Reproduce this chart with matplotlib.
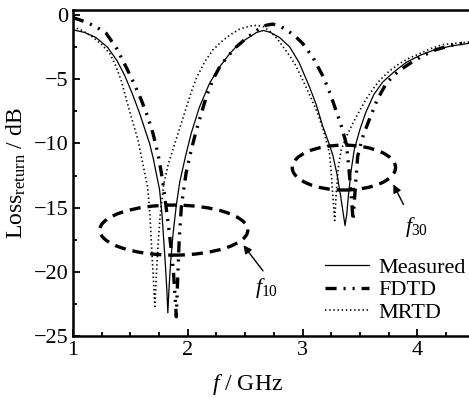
import matplotlib
matplotlib.use('Agg')
import matplotlib.pyplot as plt
from matplotlib.patches import Ellipse
from matplotlib.ticker import MultipleLocator

plt.rcParams['font.family'] = ['Liberation Serif', 'DejaVu Serif']
plt.rcParams['mathtext.fontset'] = 'custom'
plt.rcParams['mathtext.rm'] = 'Liberation Serif'
plt.rcParams['mathtext.it'] = 'Liberation Serif:italic'
plt.rcParams['font.size'] = 16
plt.rcParams['lines.scale_dashes'] = False

# measured return loss
meas_f = [1.00, 1.10, 1.20, 1.30, 1.38, 1.45, 1.52, 1.58, 1.63, 1.667, 1.70, 1.72,
          1.754, 1.775, 1.79, 1.805, 1.818, 1.826, 1.835, 1.85, 1.872, 1.90, 1.93, 1.98,
          2.03, 2.10, 2.19, 2.28, 2.365, 2.45, 2.54, 2.60, 2.66, 2.72, 2.80, 2.887,
          2.97, 3.06, 3.12, 3.177, 3.23, 3.263, 3.30, 3.33, 3.355, 3.37, 3.385, 3.40,
          3.425, 3.45, 3.50, 3.55, 3.62, 3.70, 3.80, 3.90, 4.02, 4.15, 4.30, 4.45]
meas_db = [-1.15, -1.35, -1.75, -2.5, -3.5, -4.7, -6.2, -7.65, -9.0, -10.0, -11.2, -12.1,
           -13.6, -15.5, -17.5, -19.5, -21.5, -23.2, -21.5, -19.3, -17.0, -14.8, -13.0, -11.0,
           -9.2, -7.2, -5.3, -4.0, -3.0, -2.2, -1.7, -1.35, -1.2, -1.35, -1.75, -2.47,
           -3.7, -5.6, -7.0, -8.7, -10.0, -10.9, -12.4, -14.0, -15.5, -16.4, -15.5, -14.0,
           -12.0, -10.5, -8.9, -7.6, -6.2, -5.2, -4.4, -3.7, -3.15, -2.7, -2.4, -2.2]

# FDTD simulation
fdtd_f = [1.00, 1.10, 1.20, 1.29, 1.38, 1.46, 1.53, 1.59, 1.65, 1.696, 1.74, 1.77,
          1.80, 1.84, 1.875, 1.90, 1.91, 1.925, 1.945, 1.985, 2.03, 2.075, 2.16, 2.22,
          2.28, 2.35, 2.42, 2.51, 2.60, 2.68, 2.74, 2.80, 2.86, 2.93, 3.00, 3.09,
          3.18, 3.24, 3.29, 3.34, 3.38, 3.40, 3.42, 3.44, 3.455, 3.47, 3.48, 3.52,
          3.57, 3.65, 3.73, 3.83, 3.93, 4.04, 4.16, 4.30, 4.45]
fdtd_db = [-0.2, -0.5, -0.9, -1.43, -2.6, -4.0, -5.3, -6.5, -7.9, -9.2, -10.8, -12.3,
           -14.2, -17.0, -20.0, -23.5, -21.0, -17.5, -14.8, -12.3, -10.5, -8.96, -6.4, -5.0,
           -4.0, -3.2, -2.5, -1.8, -1.2, -0.8, -0.7, -0.85, -1.15, -1.6, -2.2, -3.3,
           -4.8, -6.1, -7.4, -8.7, -10.0, -11.6, -13.6, -16.0, -14.0, -12.2, -11.0, -9.6,
           -8.4, -6.6, -5.3, -4.4, -3.8, -3.2, -2.7, -2.35, -2.1]

# MRTD simulation
mrtd_f = [1.00, 1.08, 1.17, 1.25, 1.32, 1.37, 1.42, 1.49, 1.565, 1.62, 1.65, 1.67,
          1.684, 1.70, 1.713, 1.725, 1.74, 1.76, 1.79, 1.83, 1.88, 1.93, 1.98, 2.03,
          2.075, 2.15, 2.22, 2.29, 2.365, 2.45, 2.54, 2.60, 2.66, 2.72, 2.78, 2.83,
          2.89, 2.945, 3.03, 3.12, 3.18, 3.235, 3.25, 3.265, 3.28, 3.292, 3.31, 3.336,
          3.39, 3.44, 3.50, 3.55, 3.61, 3.67, 3.75, 3.84, 3.93, 4.02, 4.12, 4.22,
          4.33, 4.45]
mrtd_db = [-0.9, -1.2, -1.7, -2.3, -3.0, -3.9, -5.1, -7.4, -9.7, -12.1, -13.4, -15.5,
           -18.0, -20.5, -22.7, -20.5, -18.0, -15.5, -13.2, -11.6, -10.2, -8.8, -7.4, -6.0,
           -4.9, -3.6, -2.7, -2.1, -1.56, -1.1, -0.85, -0.8, -0.9, -1.3, -1.85, -2.47,
           -3.2, -4.0, -5.6, -7.4, -8.9, -10.8, -12.3, -14.3, -16.0, -14.0, -12.0, -10.5,
           -9.3, -8.4, -7.4, -6.6, -5.8, -5.1, -4.4, -3.8, -3.35, -3.0, -2.6, -2.3,
           -2.2, -2.1]

fig = plt.figure(figsize=(4.69, 3.98), dpi=100)
ax = fig.add_axes([0.1557, 0.1558, 0.8443, 0.8192])

ax.plot(meas_f, meas_db, color='black', lw=0.9, label='Measured')
ax.plot(fdtd_f, fdtd_db, color='black', lw=2.4, linestyle=(0, (8, 5, 1.5, 5, 1.5, 5)), label='FDTD')
ax.plot(mrtd_f, mrtd_db, color='black', lw=1.2, linestyle=(0, (1, 2)), label='MRTD')

# dashed ellipses marking the two resonances
ax.add_patch(Ellipse((1.878, -16.75), 1.29, 3.9, fill=False, lw=2.4,
                     linestyle=(0, (8, 5)), edgecolor='black'))
ax.add_patch(Ellipse((3.36, -11.88), 0.9, 3.5, fill=False, lw=2.4,
                     linestyle=(0, (8, 5)), edgecolor='black'))

ax.annotate('', xy=(2.47, -17.76), xytext=(2.67, -20.1),
            arrowprops=dict(arrowstyle='-|>', color='black', lw=1, mutation_scale=12))
ax.text(2.69, -21.3, '$f_{10}$', ha='center', va='center', fontsize=16)
ax.annotate('', xy=(3.78, -13.0), xytext=(3.89, -14.95),
            arrowprops=dict(arrowstyle='-|>', color='black', lw=1, mutation_scale=12))
ax.text(3.99, -16.5, '$f_{30}$', ha='center', va='center', fontsize=16)

ax.set_xlim(1, 4.45)
ax.set_ylim(-25, 0.4)
ax.xaxis.set_major_locator(MultipleLocator(1))
ax.xaxis.set_minor_locator(MultipleLocator(0.25))
ax.yaxis.set_major_locator(MultipleLocator(5))
ax.yaxis.set_minor_locator(MultipleLocator(2.5))
ax.tick_params(which='both', direction='in', width=1.3, labelsize=16)
ax.tick_params(which='major', length=5)
ax.tick_params(which='minor', length=3)
for s in ['left', 'bottom', 'top']:
    ax.spines[s].set_linewidth(1.8)
ax.spines['right'].set_visible(False)

ax.set_xlabel('$f$ / GHz', fontsize=17)
ax.xaxis.set_label_coords(0.44, -0.11)
ax.set_ylabel(r'Loss$_{\mathrm{return}}$ / dB', fontsize=17)

ax.legend(loc='upper left', bbox_to_anchor=(0.693, 0.354), bbox_transform=fig.transFigure,
          frameon=False, borderpad=0, borderaxespad=0, handlelength=2.0,
          handletextpad=0.4, labelspacing=0.1, fontsize=16)

plt.savefig('out.png', dpi=100)
